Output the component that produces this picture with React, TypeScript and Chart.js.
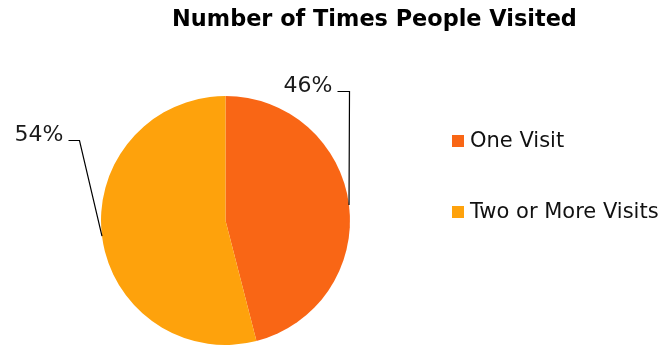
import React, { useEffect, useRef } from "react";
import { Chart, registerables } from "chart.js";

Chart.register(...registerables);

const TITLE = "Number of Times People Visited";
const CATEGORIES = ["One Visit", "Two or More Visits"];
const VALUES = [46, 54];
const COLORS = ["#F96615", "#FEA20C"];
const PERCENT_LABELS = ["46%", "54%"];

const FONT = "'DejaVu Sans', 'Open Sans', sans-serif";

const overlayPlugin = {
  id: "overlay",
  afterDraw(chart: any) {
    const ctx = chart.ctx;
    ctx.save();
    // title
    ctx.fillStyle = "#000";
    ctx.font = `bold 22.4px ${FONT}`;
    ctx.textAlign = "center";
    ctx.textBaseline = "middle";
    ctx.fillText(TITLE, 374.5, 20);

    // leader lines + percent labels
    const meta = chart.getDatasetMeta(0);
    const elbows = [
      { dx: 0, dy: -114, len: 12 },
      { dx: -23, dy: -96, len: 11 },
    ];
    meta.data.forEach((arc: any, i: number) => {
      const p = arc.getProps(["x", "y", "startAngle", "endAngle", "outerRadius"], true);
      const mid = (p.startAngle + p.endAngle) / 2;
      const ax = p.x + Math.cos(mid) * p.outerRadius;
      const ay = p.y + Math.sin(mid) * p.outerRadius;
      const e = elbows[i];
      const ex = Math.round(ax + e.dx) + 0.5;
      const ey = Math.round(ay + e.dy) + 0.5;
      ctx.strokeStyle = "#000";
      ctx.lineWidth = 1.2;
      ctx.beginPath();
      ctx.moveTo(ax, ay);
      ctx.lineTo(ex, ey);
      ctx.lineTo(ex - e.len, ey);
      ctx.stroke();
      ctx.fillStyle = "#1a1a1a";
      ctx.font = `22px ${FONT}`;
      ctx.textAlign = "right";
      ctx.textBaseline = "alphabetic";
      ctx.fillText(PERCENT_LABELS[i], ex - e.len - 5, ey);
    });

    // legend
    const legendY = [141, 212];
    CATEGORIES.forEach((c, i) => {
      ctx.fillStyle = COLORS[i];
      ctx.fillRect(452, legendY[i] - 6, 12, 12);
      ctx.fillStyle = "#111";
      ctx.font = `21px ${FONT}`;
      ctx.textAlign = "left";
      ctx.textBaseline = "middle";
      ctx.fillText(c, 470, legendY[i] + 1);
    });
    ctx.restore();
  },
};

export default function App() {
  const ref = useRef<HTMLCanvasElement>(null);
  useEffect(() => {
    document.body.style.margin = "0";
    const chart = new Chart(ref.current!, {
      type: "pie",
      data: {
        labels: CATEGORIES,
        datasets: [
          {
            data: VALUES,
            backgroundColor: COLORS,
            borderWidth: 0,
          },
        ],
      },
      options: {
        animation: false,
        responsive: false,
        layout: { padding: { top: 96, right: 219, left: 0, bottom: 0 } },
        plugins: {
          legend: { display: false },
          title: { display: false },
          tooltip: { enabled: false },
        },
      },
      plugins: [overlayPlugin],
    });
    return () => chart.destroy();
  }, []);
  return (
    <div style={{ width: 670, height: 345 }}>
      <canvas ref={ref} width={670} height={345} style={{ display: "block" }} />
    </div>
  );
}
